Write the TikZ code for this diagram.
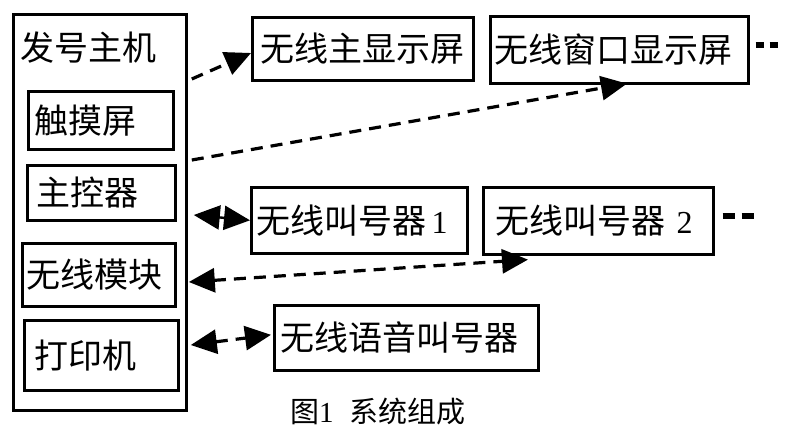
\documentclass[tikz,border=0pt]{standalone}
\usepackage{fontspec}
\setmainfont{Liberation Serif}
\newfontfamily\cjk{Noto Sans CJK SC}
\usetikzlibrary{arrows.meta,calc}
\tikzset{bigtri/.tip={Triangle[length=26pt,width=24pt]}}
\begin{document}
\begin{tikzpicture}[x=1pt,y=-1pt,
  box/.style={draw, line width=2.6pt, anchor=north west, inner ysep=0pt, align=left,
    font=\cjk\fontsize{34}{38}\selectfont},
  conn/.style={line width=3.2pt, dash pattern=on 12pt off 8pt},
  more/.style={line width=5.5pt}
]
\useasboundingbox (0,0) rectangle (786,442);
% host
\node[draw, line width=2.8pt, anchor=north west, minimum width=173pt, minimum height=396pt, inner sep=0pt] (host) at (12,13) {};
\node[anchor=west, inner sep=0pt, font=\cjk\fontsize{34}{38}\selectfont] (title) at (20,48) {发号主机};
\node[box, inner xsep=6pt, text width=133pt, minimum height=58pt] (touch) at (27,90) {触摸屏};
\node[box, inner xsep=9pt, text width=130pt, minimum height=55pt] (ctrl) at (26,164) {主控器};
\node[box, inner xsep=4pt, text width=145pt, minimum height=63pt] (wmod) at (21,242) {无线模块};
\node[box, inner xsep=10pt, text width=134pt, minimum height=70pt] (prn) at (23,319) {打印机};
% right side
\node[box, inner xsep=6pt, text width=209pt, minimum height=63pt, align=center] (main) at (251,16) {无线主显示屏};
\node[box, inner xsep=4pt, text width=250pt, minimum height=67pt] (win) at (489,15) {无线窗口显示屏};
\node[box, inner xsep=5pt, text width=206pt, minimum height=66pt] (c1) at (250,186) {无线叫号器{\rmfamily\fontsize{32}{36}\selectfont\,1}};
\node[box, inner xsep=12pt, text width=206pt, minimum height=67pt] (c2) at (482,186) {无线叫号器{\rmfamily\fontsize{32}{36}\selectfont\ 2}};
\node[box, inner xsep=6pt, text width=252pt, minimum height=65pt] (voice) at (273,304) {无线语音叫号器};
% caption
\node[anchor=west, inner sep=0pt, font=\cjk\fontsize{29}{32}\selectfont] (cap) at (290,412) {图{\rmfamily 1}\hspace{16pt}系统组成};
% connectors
\draw[conn, -bigtri] ($(host.north east)+(4,66)$) -- ($(main.north west)+(0,37)$);
\draw[conn, -bigtri] ($(host.north east)+(4,147)$) -- ($(win.south west)+(138,-1)$);
\draw[line width=2.4pt, bigtri-bigtri] ($(host.north east)+(6,202)$) -- (c1.west);
\draw[conn, bigtri-bigtri] ($(host.north east)+(1,269)$) -- ($(c2.south west)+(46,4)$);
\draw[conn, bigtri-bigtri] ($(host.north east)+(3,332)$) -- ($(voice.west)+(-2,-3)$);
% continuation marks
\draw[more, dash pattern=on 8pt off 6pt] ($(win.east)+(6,-5)$) -- ++(22,0);
\draw[more, dash pattern=on 12pt off 7pt] ($(c2.east)+(8,-5)$) -- ++(31,0);
\end{tikzpicture}
\end{document}
